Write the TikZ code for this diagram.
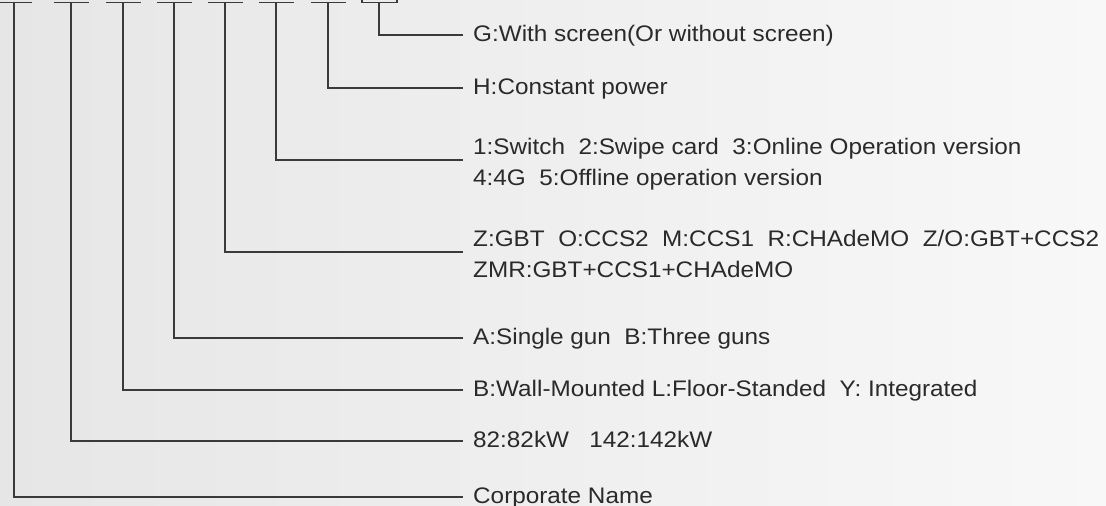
\documentclass[tikz,border=0pt]{standalone}
\usepackage{fontspec}
\setmainfont[FakeStretch=1.08]{Liberation Sans}
\usepackage{xcolor}
\usetikzlibrary{positioning}
\definecolor{linegray}{HTML}{3A3A3A}
\definecolor{textgray}{HTML}{2A2A2A}
\definecolor{bgleft}{HTML}{E6E6E6}
\definecolor{bgmid}{HTML}{F2F2F2}
\definecolor{bgright}{HTML}{F8F8F8}

\begin{document}
\begin{tikzpicture}[x=1pt, y=-1pt,
  paths/.style={line width=1.6pt, draw=linegray, shorten >=10pt},
  bars/.style={line width=1.6pt, draw=linegray},
  labels/.style={anchor=base west, inner sep=0pt, align=left, text=textgray,
                 font=\fontsize{22.5}{31}\selectfont}]

 \shade[left color=bgleft, middle color=bgmid, right color=bgright] (0,0) rectangle (1106,506);
 \useasboundingbox (0,0) rectangle (1106,506);

 % code positions along the top
 \coordinate (slot_corp) at (14,2.5);
 \coordinate (slot_power) at (71,2.5);
 \coordinate (slot_mount) at (123,2.5);
 \coordinate (slot_guns) at (174,2.5);
 \coordinate (slot_plug) at (225,2.5);
 \coordinate (slot_mode) at (276,2.5);
 \coordinate (slot_const) at (328,2.5);
 \coordinate (slot_screen) at (379,2.5);

 \draw [bars] ([xshift=-17.5pt]slot_corp) -- ([xshift=17.5pt]slot_corp);
 \draw [bars] ([xshift=-17.5pt]slot_power) -- ([xshift=17.5pt]slot_power);
 \draw [bars] ([xshift=-17.5pt]slot_mount) -- ([xshift=17.5pt]slot_mount);
 \draw [bars] ([xshift=-17.5pt]slot_guns) -- ([xshift=17.5pt]slot_guns);
 \draw [bars] ([xshift=-17.5pt]slot_plug) -- ([xshift=17.5pt]slot_plug);
 \draw [bars] ([xshift=-17.5pt]slot_mode) -- ([xshift=17.5pt]slot_mode);
 \draw [bars] ([xshift=-17.5pt]slot_const) -- ([xshift=17.5pt]slot_const);
 \draw [bars] ([shift={(-17,-3)}]slot_screen) -- ++(0,3) -- ++(35,0) -- ++(0,-3);

 % meanings
 \node[labels] (screen) at (473,41)
     {G:With screen(Or without screen)};

 \node[labels] (const) at (473,94)
     {H:Constant power};

 \node[labels] (mode) at (473,185)
     {1:Switch\ \ 2:Swipe card\ \ 3:Online\ Operation version\\4:4G\ \ 5:Offline operation version};

 \node[labels] (plug) at (473,277)
     {Z:GBT\ \ O:CCS2\ \ M:CCS1\ \ R:CHAdeMO\ \ Z/O:GBT+CCS2\\ZMR:GBT+CCS1+CHAdeMO};

 \node[labels] (guns) at (473,344)
     {A:Single gun\ \ B:Three guns};

 \node[labels] (mount) at (473,396)
     {B:Wall-Mounted L:Floor-Standed\ \ Y: Integrated};

 \node[labels] (power) at (473,447)
     {82:82kW\ \ \ 142:142kW};

 \node[labels] (corp) at (473,503)
     {Corporate Name};


 \draw [paths] (slot_screen) |- ([yshift=6pt]screen.base west);
 \draw [paths] (slot_const) |- ([yshift=6pt]const.base west);
 \draw [paths] (slot_mode) |- ([yshift=25pt]mode.base west);
 \draw [paths] (slot_plug) |- ([yshift=25pt]plug.base west);
 \draw [paths] (slot_guns) |- ([yshift=6pt]guns.base west);
 \draw [paths] (slot_mount) |- ([yshift=6pt]mount.base west);
 \draw [paths] (slot_power) |- ([yshift=6pt]power.base west);
 \draw [paths] (slot_corp) |- ([yshift=6pt]corp.base west);

\end{tikzpicture}
\end{document}
